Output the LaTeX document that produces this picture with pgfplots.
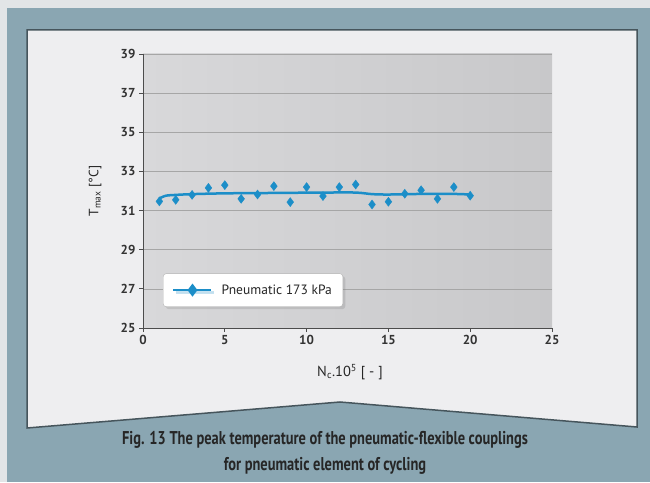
\documentclass[border=0pt]{standalone}
\usepackage{fontspec}
\setmainfont{PT Sans}
\newfontfamily\capfont[FakeStretch=0.78]{PT Sans}
\usepackage{pgfplots}
\pgfplotsset{compat=1.18}
\usetikzlibrary{shadows}
\definecolor{band}{RGB}{138,166,178}
\definecolor{page}{RGB}{226,229,231}
\definecolor{panel}{RGB}{238,238,240}
\definecolor{panelborder}{RGB}{70,85,92}
\definecolor{ser}{RGB}{28,142,200}
\definecolor{bgA}{RGB}{216,216,218}
\definecolor{bgB}{RGB}{200,200,202}
\begin{document}
\begin{tikzpicture}[x=1pt,y=1pt]
\useasboundingbox (0pt,0pt) rectangle (650pt,482pt);
\fill[page] (0pt,0pt) rectangle (650pt,482pt);
\fill[band] (7pt,0pt) rectangle (650pt,474pt);
\filldraw[fill=panel, draw=panelborder, line width=1.5pt] (27pt,452pt) -- (637pt,452pt) -- (637pt,55pt) -- (340pt,80pt) -- (27pt,54pt) -- cycle;
\node[font=\capfont\bfseries\fontsize{18.5}{20}\selectfont, text=black!85] at (325pt,42pt) {Fig. 13 The peak temperature of the pneumatic-flexible couplings};
\node[font=\capfont\bfseries\fontsize{18.5}{20}\selectfont, text=black!85] at (325pt,16pt) {for pneumatic element of cycling};
\begin{axis}[
  at={(143pt,154pt)}, anchor=south west, scale only axis,
  width=409pt, height=274pt,
  xmin=0, xmax=25, ymin=25, ymax=39,
  xtick={0,5,...,25}, ytick={25,27,...,39},
  axis lines*=left,
  axis line style={draw=black!70, line width=0.8pt},
  tick align=outside, major tick length=4pt,
  tick style={black!70, line width=0.8pt},
  ymajorgrids, grid style={black!35, line width=0.6pt},
  axis background/.style={left color=bgA, right color=bgB},
  /pgf/number format/assume math mode=true,
  ticklabel style={font=\bfseries\fontsize{13}{13}\selectfont, text=black!80},
  xlabel={N\textsubscript{c}.10\textsuperscript{5} [ - ]},
  ylabel={T\textsubscript{max} [°C]},
  xlabel style={at={(axis description cs:0.506,-0.16)}, anchor=center, font=\fontsize{14.5}{16}\selectfont, text=black!85},
  ylabel style={at={(axis description cs:-0.117,0.5)}, anchor=center, font=\fontsize{13.5}{15}\selectfont, text=black!85},
  legend style={at={(0.049,0.077)}, anchor=south west, draw=black!30, fill=white,
    rounded corners=3pt, drop shadow={opacity=0.25},
    font=\fontsize{13.5}{15}\selectfont, text=black!85,
    inner xsep=9pt, inner ysep=9pt, column sep=7pt},
  legend image code/.code={\draw[mark repeat=2, mark phase=2, #1] plot coordinates {(0pt,0pt) (19pt,0pt) (38pt,0pt)};},
]
\addplot[only marks, mark=diamond*, mark size=4.5pt, color=ser, forget plot] coordinates {
(1,31.47) (2,31.55) (3,31.80) (4,32.16) (5,32.30) (6,31.60) (7,31.82) (8,32.25) (9,31.43) (10,32.20)
(11,31.74) (12,32.20) (13,32.33) (14,31.31) (15,31.45) (16,31.86) (17,32.04) (18,31.60) (19,32.20) (20,31.76)};
\addplot[smooth, line width=2.5pt, color=ser, forget plot] coordinates {
(1,31.62) (1.4,31.76) (2,31.80) (3,31.84) (5,31.88) (8,31.90) (11,31.92) (13,31.92) (14,31.84) (15,31.82) (17,31.85) (19,31.85) (20,31.82)};
\addlegendimage{line width=2.5pt, color=ser, mark=diamond*, mark size=4.5pt}
\addlegendentry{Pneumatic 173 kPa}
\end{axis}
\end{tikzpicture}
\end{document}
